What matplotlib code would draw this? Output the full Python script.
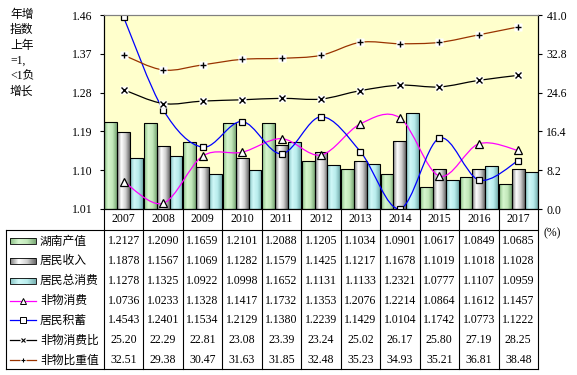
"""
湖南 2007-2017 产值/收入/消费 年增指数 + 非物消费 比重 (bar + smooth lines + data table).
"""
import numpy as np
import matplotlib
matplotlib.use('Agg')
import matplotlib.pyplot as plt
from matplotlib.path import Path
from matplotlib.patches import PathPatch, Rectangle
from matplotlib.colors import LinearSegmentedColormap
from matplotlib.transforms import blended_transform_factory

plt.rcParams['font.family'] = ['Liberation Serif', 'Noto Sans CJK SC']

# ---- data ----
years = ['2007', '2008', '2009', '2010', '2011', '2012', '2013', '2014', '2015', '2016', '2017']
gdp = [1.2127, 1.2090, 1.1659, 1.2101, 1.2088, 1.1205, 1.1034, 1.0901, 1.0617, 1.0849, 1.0685]
income = [1.1878, 1.1567, 1.1069, 1.1282, 1.1579, 1.1425, 1.1217, 1.1678, 1.1019, 1.1018, 1.1028]
consume = [1.1278, 1.1325, 1.0922, 1.0998, 1.1652, 1.1131, 1.1133, 1.2321, 1.0777, 1.1107, 1.0959]
nonmat = [1.0736, 1.0233, 1.1328, 1.1417, 1.1732, 1.1353, 1.2076, 1.2214, 1.0864, 1.1612, 1.1457]
savings = [1.4543, 1.2401, 1.1534, 1.2129, 1.1380, 1.2239, 1.1429, 1.0104, 1.1742, 1.0773, 1.1222]
nonmat_ratio = [25.20, 22.29, 22.81, 23.08, 23.39, 23.24, 25.02, 26.17, 25.80, 27.19, 28.25]
nonmat_share = [32.51, 29.38, 30.47, 31.63, 31.85, 32.48, 35.23, 34.93, 35.21, 36.81, 38.48]

left_ticks = [1.01, 1.10, 1.19, 1.28, 1.37, 1.46]
right_ticks = [0.0, 8.2, 16.4, 24.6, 32.8, 41.0]

W, H = 577, 375
fig = plt.figure(figsize=(W / 100, H / 100), dpi=100)
fig.patch.set_facecolor('white')

# overlay in pixel coords for the table / side text
tab = fig.add_axes([0, 0, 1, 1])
tab.set_xlim(0, W)
tab.set_ylim(H, 0)
tab.axis('off')

PL, PR, PT, PB = 104, 538, 15, 209
ax = fig.add_axes([PL / W, 1 - PB / H, (PR - PL) / W, (PB - PT) / H])
ax.set_facecolor('#FFFFCC')
ax2 = ax.twinx()

x = np.arange(len(years))
bw = 0.325

grad_green = LinearSegmentedColormap.from_list('g', ['#8cc088', '#d6f6ce', '#c2e8ba', '#7aa876'])
grad_gray = LinearSegmentedColormap.from_list('s', ['#7a7a7a', '#ffffff', '#d0d0d0', '#6a6a6a'])
grad_cyan = LinearSegmentedColormap.from_list('c', ['#86c4c4', '#d0f8f8', '#b8ecec', '#78b0b0'])
grad = np.linspace(0, 1, 64).reshape(1, -1)

series_bars = [(gdp, grad_green, -bw), (income, grad_gray, 0), (consume, grad_cyan, bw)]
for vals, cmap, off in series_bars:
    bars = ax.bar(x + off, np.array(vals) - 1.01, bw, bottom=1.01,
                  facecolor='none', edgecolor='black', linewidth=0.8, zorder=3)
    for b in bars:
        x0, y0 = b.get_x(), b.get_y()
        im = ax.imshow(grad, cmap=cmap, aspect='auto', zorder=2,
                       extent=(x0, x0 + b.get_width(), y0, y0 + b.get_height()))
        im.set_clip_path(b)


def smooth_path(xs, ys):
    pts = np.column_stack([xs, ys]).astype(float)
    n = len(pts)
    verts, codes = [pts[0]], [Path.MOVETO]
    for i in range(n - 1):
        p0 = pts[i - 1] if i > 0 else pts[i]
        p1, p2 = pts[i], pts[i + 1]
        p3 = pts[i + 2] if i + 2 < n else pts[i + 1]
        verts += [p1 + (p2 - p0) / 6, p2 - (p3 - p1) / 6, p2]
        codes += [Path.CURVE4] * 3
    return Path(verts, codes)


def smooth_line(a, vals, color, marker):
    a.add_patch(PathPatch(smooth_path(x, vals), facecolor='none', edgecolor=color,
                          linewidth=0.9, zorder=5))
    if marker in ('x', '+'):
        a.plot(x, vals, 's', ms=6, mfc='white', mec='none', zorder=6)
        a.plot(x, vals, marker, ms=5, mec='black', mew=1.0, zorder=7)
    else:
        ms = 6 if marker == '^' else 5
        a.plot(x, vals, marker, ms=ms, mfc='white', mec='black', mew=0.9, zorder=7)


smooth_line(ax, nonmat, '#FF00FF', '^')
smooth_line(ax, savings, '#0000FF', 's')
smooth_line(ax2, nonmat_ratio, '#000000', 'x')
smooth_line(ax2, nonmat_share, '#993300', '+')

ax.set_xlim(-0.5, len(years) - 0.5)
ax.set_ylim(1.01, 1.46)
ax2.set_ylim(0, 41)
ax.set_yticks(left_ticks)
ax.set_yticklabels([f'{v:.2f}' for v in left_ticks])
ax2.set_yticks(right_ticks)
ax2.set_yticklabels([f'{v:.1f}' for v in right_ticks])
ax.set_xticks([])
ax.tick_params(axis='y', direction='out', length=3, width=0.8, pad=5, labelsize=8.5)
ax2.tick_params(axis='y', direction='out', length=3, width=0.8, pad=3, labelsize=8.5)
for a in (ax, ax2):
    for s in a.spines.values():
        s.set_linewidth(0.8)
        s.set_color('black')
    a.spines['top'].set_color('#808080')

# ---- table ----
bt = blended_transform_factory(ax.transData, tab.transData)
T_TOP, T_BOT = 230, 369
row_h = (T_BOT - T_TOP) / 7
lw = 0.8

tab.plot([6, PR], [T_TOP, T_TOP], color='black', lw=lw)
tab.plot([6, PR], [T_BOT, T_BOT], color='black', lw=lw)
tab.plot([6, 6], [T_TOP, T_BOT], color='black', lw=lw)
for i in range(len(years) + 1):
    tab.plot([i - 0.5, i - 0.5], [PB, T_BOT], color='black', lw=lw, transform=bt)

for i, yr in enumerate(years):
    tab.text(i, 219.5, yr, transform=bt, ha='center', va='center', fontsize=8.5)

rows = [
    ('湖南产值', gdp, '{:.4f}', ('bar', grad_green)),
    ('居民收入', income, '{:.4f}', ('bar', grad_gray)),
    ('居民总消费', consume, '{:.4f}', ('bar', grad_cyan)),
    ('非物消费', nonmat, '{:.4f}', ('line', '#FF00FF', '^')),
    ('居民积蓄', savings, '{:.4f}', ('line', '#0000FF', 's')),
    ('非物消费比', nonmat_ratio, '{:.2f}', ('line', '#000000', 'x')),
    ('非物比重值', nonmat_share, '{:.2f}', ('line', '#993300', '+')),
]
for r, (label, vals, fmt, key) in enumerate(rows):
    yc = T_TOP + row_h * (r + 0.5) + 1
    if key[0] == 'bar':
        tab.imshow(grad, cmap=key[1], aspect='auto', extent=(10, 36, yc + 3, yc - 3), zorder=3)
        tab.add_patch(Rectangle((10, yc - 3), 26, 6, facecolor='none', edgecolor='black',
                                lw=0.6, zorder=4))
    else:
        tab.plot([10, 36], [yc, yc], color=key[1], lw=0.9)
        if key[2] in ('x', '+'):
            tab.plot([23], [yc], 's', ms=5, mfc='white', mec='none')
            tab.plot([23], [yc], key[2], ms=3.5, mec='black', mew=0.8)
        else:
            tab.plot([23], [yc], key[2], ms=4, mfc='white', mec='black', mew=0.7)
    tab.text(40, yc, label, ha='left', va='center', fontsize=8.5, family='Noto Sans CJK SC')
    for i, v in enumerate(vals):
        tab.text(i, yc, fmt.format(v), transform=bt, ha='center', va='center', fontsize=8.5)

tab.set_xlim(0, W)
tab.set_ylim(H, 0)
tab.text(543, 233, '(%)', ha='left', va='center', fontsize=8.5)

side = ['年增', '指数', '上年', '=1,', '<1负', '增长']
for k, s in enumerate(side):
    tab.text(10, 15 + k * 15.4, s, ha='left', va='center', fontsize=8.5)

plt.savefig('out.png', dpi=100)
plt.close()
